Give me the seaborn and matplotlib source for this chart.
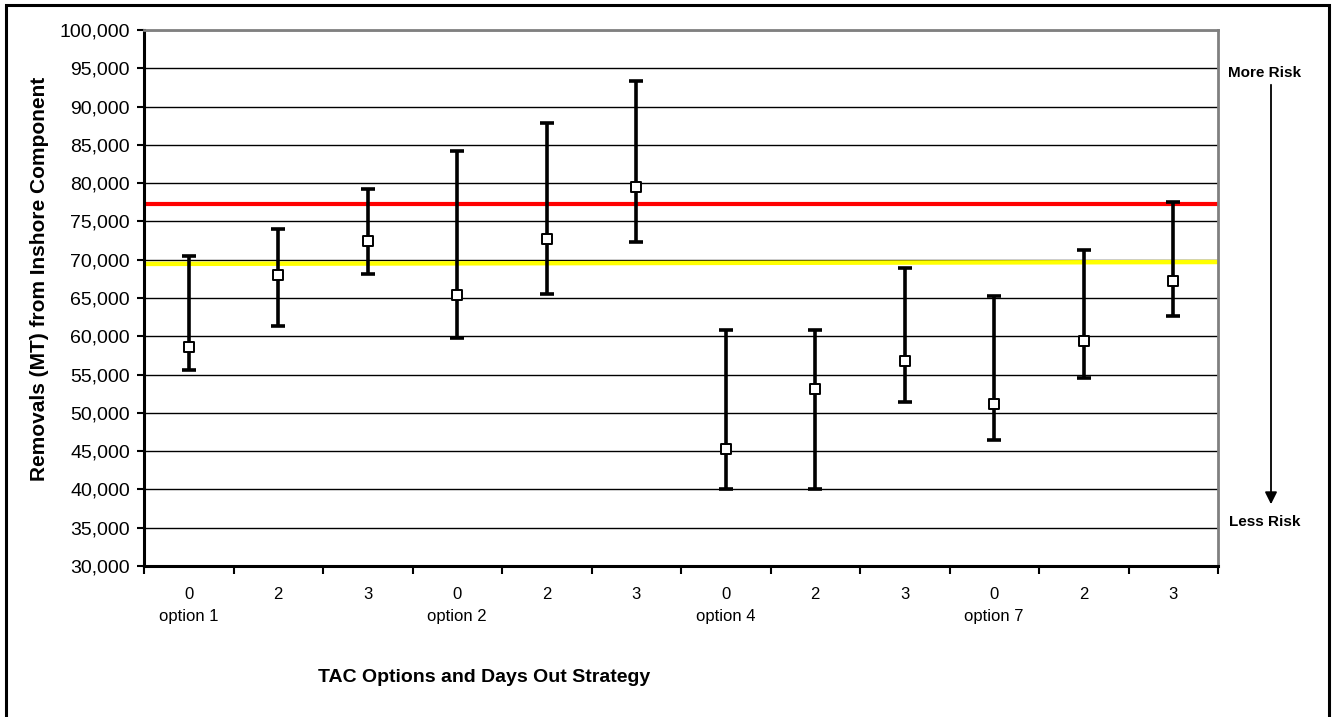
import matplotlib
matplotlib.use('Agg')
import matplotlib.pyplot as plt
import seaborn as sns
import pandas as pd
from matplotlib.patches import Rectangle

# data
days = ['0', '2', '3', '0', '2', '3', '0', '2', '3', '0', '2', '3']
options = ['option 1', '', '', 'option 2', '', '', 'option 4', '', '', 'option 7', '', '']
median = [58550, 67980, 72410, 65370, 72670, 79450, 45290, 53080, 56730, 51120, 59370, 67200]
low = [55550, 61330, 68070, 59770, 65460, 72280, 40000, 40000, 51420, 46470, 54550, 62690]
high = [70550, 74070, 79280, 84240, 87890, 93360, 60770, 60770, 68890, 65200, 71240, 77500]
red_level = [77240, 77240]
yellow_level = [69450, 69700]

df = pd.DataFrame({'pos': range(len(days)), 'median': median, 'low': low, 'high': high})

sns.set_style('white')
plt.rcParams['font.family'] = ['Liberation Sans', 'DejaVu Sans']
plt.rcParams['text.color'] = 'black'
plt.rcParams['xtick.color'] = 'black'
plt.rcParams['ytick.color'] = 'black'
plt.rcParams['axes.labelcolor'] = 'black'

fig = plt.figure(figsize=(13.35, 7.17), dpi=100)
ax = fig.add_axes([144/1335, 1-566/717, (1218-144)/1335, (566-30)/717])

# reference lines
ax.plot([-0.5, 11.5], red_level, color='#ff0000', lw=3, zorder=2)
ax.plot([-0.5, 11.5], yellow_level, color='#ffff00', lw=3.2, zorder=2)

# range bars
ax.errorbar(df['pos'], df['median'],
            yerr=[df['median'] - df['low'], df['high'] - df['median']],
            fmt='none', ecolor='black', elinewidth=2.6, capsize=5, capthick=2.6, zorder=3)
sns.scatterplot(data=df, x='pos', y='median', marker='s', s=60, color='white',
                edgecolor='black', linewidth=1.4, ax=ax, zorder=4)

ax.set_xlim(-0.5, 11.5)
ax.set_ylim(30000, 100000)
ax.set_yticks(range(30000, 100001, 5000))
ax.set_yticklabels([f'{v:,}' for v in range(30000, 100001, 5000)], fontsize=14)
ax.yaxis.grid(True, color='black', lw=1)
ax.set_axisbelow(True)
ax.tick_params(axis='y', direction='out', length=5, width=1.5, color='black', left=True, pad=5)

ax.set_xticks(range(len(days)))
ax.set_xticklabels([d + '\n' + o for d, o in zip(days, options)], fontsize=12, linespacing=1.6, va='top')
ax.set_xticks([i - 0.5 for i in range(len(days) + 1)], minor=True)
ax.tick_params(axis='x', which='major', length=0, pad=15)
ax.tick_params(axis='x', which='minor', direction='out', length=6, width=1.5, color='black', bottom=True)

for s in ['left', 'bottom']:
    ax.spines[s].set_color('black')
    ax.spines[s].set_linewidth(2.2)
for s in ['top', 'right']:
    ax.spines[s].set_color('#808080')
    ax.spines[s].set_linewidth(2)

ax.set_xlabel('')
ax.set_ylabel('')
fig.text(40/1335, 1-279/717, 'Removals (MT) from Inshore Component', fontsize=15,
         fontweight='bold', rotation=90, ha='center', va='center')
fig.text(484/1335, 1-678/717, 'TAC Options and Days Out Strategy', fontsize=14,
         fontweight='bold', ha='center', va='center')

# risk arrow on the right
fig.text(1265/1335, 1-73/717, 'More Risk', fontsize=11, fontweight='bold', ha='center', va='center')
fig.text(1265/1335, 1-522/717, 'Less Risk', fontsize=11, fontweight='bold', ha='center', va='center')
ax.annotate('', xy=(1271/1335, 1-507/717), xytext=(1271/1335, 1-82/717),
            xycoords='figure fraction', textcoords='figure fraction',
            arrowprops=dict(arrowstyle='-|>', color='black', lw=1.3, mutation_scale=18))

fig.patches.append(Rectangle((6/1335, -0.01), (1329-6)/1335, 1-5/717+0.01, transform=fig.transFigure,
                             fill=False, edgecolor='black', lw=2.2))

fig.savefig('out.png', dpi=100)
